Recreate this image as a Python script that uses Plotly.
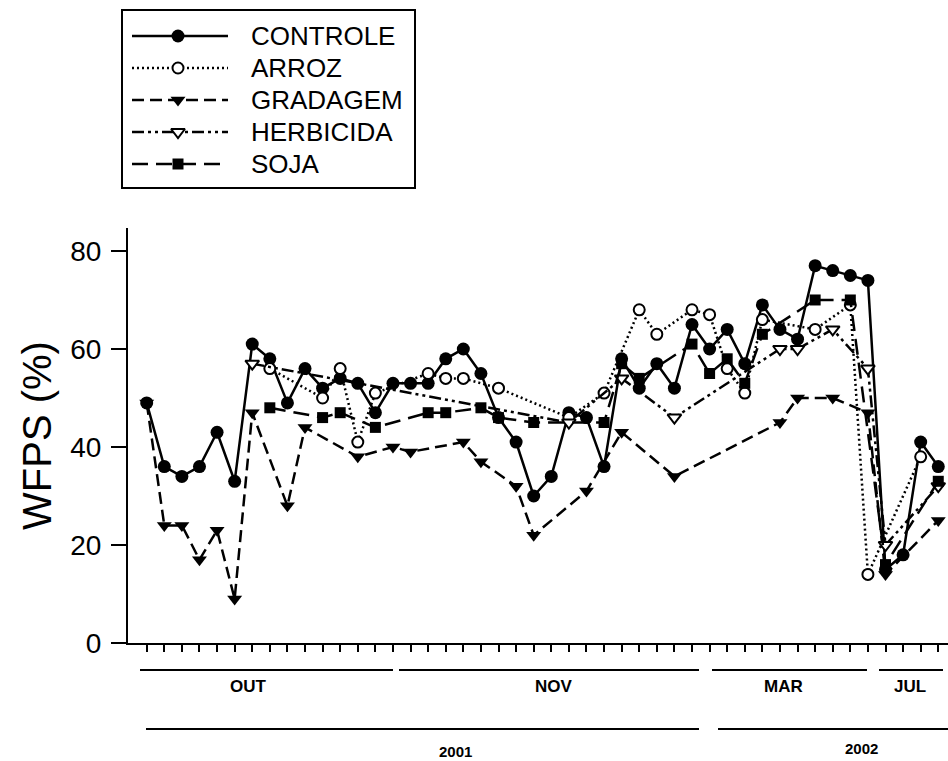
import plotly.graph_objects as go

# ---------------- data ----------------
N = None
days = list(range(46))
series_names = ["CONTROLE", "ARROZ", "GRADAGEM", "HERBICIDA", "SOJA"]

controle = [49, 36, 34, 36, 43, 33, 61, 58, 49, 56,
            52, 54, 53, 47, 53, 53, 53, 58, 60, 55,
            46, 41, 30, 34, 47, 46, 36, 58, 52, 57,
            52, 65, 60, 64, 57, 69, 64, 62, 77, 76,
            75, 74, 15, 18, 41, 36]
arroz = [N, N, N, N, N, N, N, 56, N, N,
         50, 56, 41, 51, N, N, 55, 54, 54, N,
         52, N, N, N, 46, N, 51, N, 68, 63,
         N, 68, 67, 56, 51, 66, N, N, 64, N,
         69, 14, N, N, 38, N]
gradagem = [49, 24, 24, 17, 23, 9, 47, N, 28, 44,
            N, N, 38, N, 40, 39, N, N, 41, 37,
            N, 32, 22, N, N, 31, N, 43, N, N,
            34, N, N, N, N, N, 45, 50, N, 50,
            N, 47, 14, N, N, 25]
herbicida = [N, N, N, N, N, N, 57, N, N, N,
             N, N, N, N, N, N, N, N, N, N,
             N, N, N, N, 45, N, N, 54, N, N,
             46, N, N, N, N, N, 60, 60, N, 64,
             N, 56, 20, N, N, 32]
soja = [N, N, N, N, N, N, N, 48, N, N,
        46, 47, N, 44, N, N, 47, 47, N, 48,
        46, N, 45, N, N, N, 45, 57, 54, N,
        N, 61, 55, 58, 53, 63, N, N, 70, N,
        70, N, 16, N, N, 33]

y_ticks = [0, 20, 40, 60, 80]
month_labels = ["OUT", "NOV", "MAR", "JUL"]
year_labels = ["2001", "2002"]

values = [controle, arroz, gradagem, herbicida, soja]

# ---------------- styles ----------------
FONT = "Liberation Sans, Arial, sans-serif"
styles = [
    dict(dash="solid", symbol="circle", size=13, fill="black"),
    dict(dash="2px,3px", symbol="circle", size=11, fill="white"),
    dict(dash="12px,6px", symbol="triangle-down", size=13, fill="black"),
    dict(dash="12px,4px,3px,4px,3px,4px", symbol="triangle-down", size=12, fill="white"),
    dict(dash="16px,8px", symbol="square", size=11, fill="black"),
]

W_PX, H_PX = 948, 761
def fx(x):
    return x / W_PX
def fy(y):
    return (H_PX - y) / H_PX

fig = go.Figure()

for name, vals, st in zip(series_names, values, styles):
    fig.add_trace(go.Scatter(
        x=days, y=vals, name=name, mode="lines+markers", connectgaps=True,
        line=dict(color="black", width=2.5, dash=st["dash"]),
        marker=dict(symbol=st["symbol"], size=st["size"], color=st["fill"],
                    line=dict(color="black", width=2 if st["fill"] == "white" else 0)),
        showlegend=False, hoverinfo="skip",
    ))

# ---------------- custom legend (second axes in pixel-like units) ----------------
legend_rows = [36, 68, 100, 132, 164]
for name, st, ry in zip(series_names, styles, legend_rows):
    fig.add_trace(go.Scatter(
        x=[132, 178, 228], y=[ry, ry, ry], mode="lines+markers",
        xaxis="x2", yaxis="y2",
        line=dict(color="black", width=2.5, dash=st["dash"]),
        marker=dict(symbol=st["symbol"], size=st["size"], color=st["fill"],
                    opacity=[0, 1, 0],
                    line=dict(color="black", width=2 if st["fill"] == "white" else 0)),
        showlegend=False, hoverinfo="skip",
    ))
    fig.add_annotation(x=249, y=ry, xref="x2", yref="y2", text=name, showarrow=False,
                       xanchor="left", yanchor="middle",
                       font=dict(family=FONT, size=26, color="black"))

shapes = [
    # legend box
    dict(type="rect", xref="paper", yref="paper", x0=fx(122), x1=fx(415), y0=fy(188), y1=fy(10),
         line=dict(color="black", width=2)),
    # x-axis extension to the left of the y axis
    dict(type="line", xref="paper", yref="paper", x0=fx(112), x1=fx(128), y0=fy(643), y1=fy(643),
         line=dict(color="black", width=2)),
]

month_lines = [(140, 393), (399, 699), (712, 867), (879, 943)]
month_cx = [248, 554, 783, 910]
for (a, b), cx, lab in zip(month_lines, month_cx, month_labels):
    shapes.append(dict(type="line", xref="paper", yref="paper", x0=fx(a), x1=fx(b),
                       y0=fy(670), y1=fy(670), line=dict(color="black", width=2)))
    fig.add_annotation(x=fx(cx), y=fy(686), xref="paper", yref="paper", text="<b>%s</b>" % lab,
                       showarrow=False, xanchor="center", yanchor="middle",
                       font=dict(family=FONT, size=17, color="black"))

year_lines = [(146, 699), (718, 948)]
year_cx = [455, 861]
year_ty = [751, 748]
for (a, b), cx, ty, lab in zip(year_lines, year_cx, year_ty, year_labels):
    shapes.append(dict(type="line", xref="paper", yref="paper", x0=fx(a), x1=fx(b),
                       y0=fy(729), y1=fy(729), line=dict(color="black", width=2)))
    fig.add_annotation(x=fx(cx), y=fy(ty), xref="paper", yref="paper", text="<b>%s</b>" % lab,
                       showarrow=False, xanchor="center", yanchor="middle",
                       font=dict(family=FONT, size=15, color="black"))

fig.update_layout(
    width=W_PX, height=H_PX,
    margin=dict(l=0, r=0, t=0, b=0, pad=0, autoexpand=False),
    paper_bgcolor="white", plot_bgcolor="white",
    font=dict(family=FONT, color="black"),
    shapes=shapes,
    xaxis=dict(domain=[fx(128), 1], range=[-1.063, 45.553],
               tickmode="array", tickvals=days, showticklabels=False,
               ticks="outside", ticklen=7, tickwidth=2, tickcolor="black",
               showline=True, linecolor="black", linewidth=2,
               showgrid=False, zeroline=False, automargin=False),
    yaxis=dict(domain=[fy(643), fy(228)], range=[0, 84.69],
               tickmode="array", tickvals=y_ticks, ticktext=[str(v) for v in y_ticks],
               ticks="outside", ticklen=15, tickwidth=1.5, tickcolor="black",
               tickfont=dict(family=FONT, size=28, color="black"),
               ticklabelstandoff=4, automargin=False,
               showline=True, linecolor="black", linewidth=2,
               showgrid=False, zeroline=False,
               title=dict(text="WFPS (%)", font=dict(family=FONT, size=40, color="black"),
                          standoff=6)),
    xaxis2=dict(domain=[fx(122), fx(415)], range=[122, 415], visible=False, fixedrange=True),
    yaxis2=dict(domain=[fy(188), fy(10)], range=[188, 10], visible=False, fixedrange=True),
)

fig.write_html("out.html")
